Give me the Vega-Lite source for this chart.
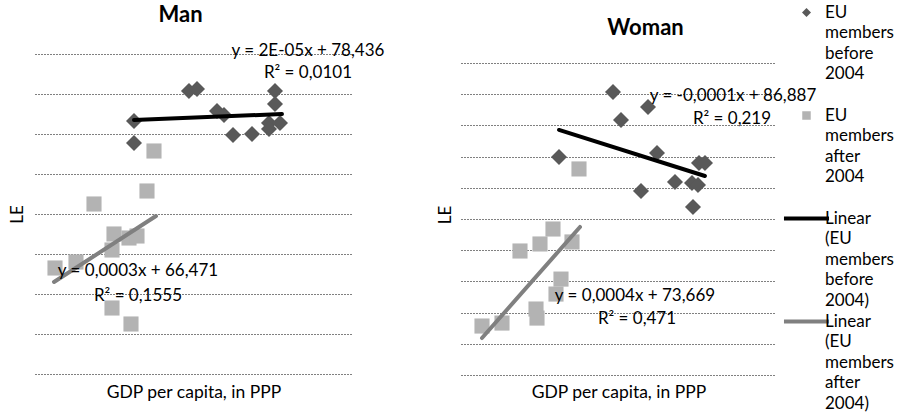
{
  "$schema": "https://vega.github.io/schema/vega-lite/v6.json",
  "background": "white",
  "padding": {"left": 8, "top": 3, "right": 0, "bottom": 0},
  "bounds": "flush",
  "spacing": 109,
  "config": {
    "view": {"stroke": null},
    "font": "Lato",
    "style": {"guide-label": {"lineHeight": 20.5}}
  },
  "datasets": {
    "points": [
      {"panel": "Man", "series": "EU members before 2004", "gdp": 10930, "le": 78.65},
      {"panel": "Man", "series": "EU members before 2004", "gdp": 10930, "le": 77.55},
      {"panel": "Man", "series": "EU members before 2004", "gdp": 17000, "le": 80.15},
      {"panel": "Man", "series": "EU members before 2004", "gdp": 17885, "le": 80.25},
      {"panel": "Man", "series": "EU members before 2004", "gdp": 20093, "le": 79.15},
      {"panel": "Man", "series": "EU members before 2004", "gdp": 20866, "le": 78.95},
      {"panel": "Man", "series": "EU members before 2004", "gdp": 21860, "le": 77.95},
      {"panel": "Man", "series": "EU members before 2004", "gdp": 23957, "le": 78.0},
      {"panel": "Man", "series": "EU members before 2004", "gdp": 26496, "le": 80.15},
      {"panel": "Man", "series": "EU members before 2004", "gdp": 26496, "le": 79.5},
      {"panel": "Man", "series": "EU members before 2004", "gdp": 25834, "le": 78.55},
      {"panel": "Man", "series": "EU members before 2004", "gdp": 25834, "le": 78.25},
      {"panel": "Man", "series": "EU members before 2004", "gdp": 27048, "le": 78.55},
      {"panel": "Man", "series": "EU members after 2004", "gdp": 13138, "le": 77.15},
      {"panel": "Man", "series": "EU members after 2004", "gdp": 12365, "le": 75.15},
      {"panel": "Man", "series": "EU members after 2004", "gdp": 6514, "le": 74.5},
      {"panel": "Man", "series": "EU members after 2004", "gdp": 8722, "le": 73.0},
      {"panel": "Man", "series": "EU members after 2004", "gdp": 10378, "le": 72.8},
      {"panel": "Man", "series": "EU members after 2004", "gdp": 11261, "le": 72.9},
      {"panel": "Man", "series": "EU members after 2004", "gdp": 8501, "le": 72.2},
      {"panel": "Man", "series": "EU members after 2004", "gdp": 2208, "le": 71.3},
      {"panel": "Man", "series": "EU members after 2004", "gdp": 4526, "le": 71.6},
      {"panel": "Man", "series": "EU members after 2004", "gdp": 8501, "le": 69.3},
      {"panel": "Man", "series": "EU members after 2004", "gdp": 10598, "le": 68.5},
      {"panel": "Woman", "series": "EU members before 2004", "gdp": 16887, "le": 88.14},
      {"panel": "Woman", "series": "EU members before 2004", "gdp": 17776, "le": 86.35},
      {"panel": "Woman", "series": "EU members before 2004", "gdp": 20776, "le": 87.18},
      {"panel": "Woman", "series": "EU members before 2004", "gdp": 10888, "le": 83.97},
      {"panel": "Woman", "series": "EU members before 2004", "gdp": 21776, "le": 84.23},
      {"panel": "Woman", "series": "EU members before 2004", "gdp": 19998, "le": 81.79},
      {"panel": "Woman", "series": "EU members before 2004", "gdp": 23775, "le": 82.37},
      {"panel": "Woman", "series": "EU members before 2004", "gdp": 25664, "le": 82.31},
      {"panel": "Woman", "series": "EU members before 2004", "gdp": 26331, "le": 82.18},
      {"panel": "Woman", "series": "EU members before 2004", "gdp": 26442, "le": 83.59},
      {"panel": "Woman", "series": "EU members before 2004", "gdp": 27108, "le": 83.59},
      {"panel": "Woman", "series": "EU members before 2004", "gdp": 25775, "le": 80.77},
      {"panel": "Woman", "series": "EU members after 2004", "gdp": 13110, "le": 83.21},
      {"panel": "Woman", "series": "EU members after 2004", "gdp": 10221, "le": 79.36},
      {"panel": "Woman", "series": "EU members after 2004", "gdp": 8777, "le": 78.4},
      {"panel": "Woman", "series": "EU members after 2004", "gdp": 6555, "le": 77.95},
      {"panel": "Woman", "series": "EU members after 2004", "gdp": 12332, "le": 78.53},
      {"panel": "Woman", "series": "EU members after 2004", "gdp": 11110, "le": 76.15},
      {"panel": "Woman", "series": "EU members after 2004", "gdp": 10555, "le": 75.19},
      {"panel": "Woman", "series": "EU members after 2004", "gdp": 8333, "le": 74.23},
      {"panel": "Woman", "series": "EU members after 2004", "gdp": 8444, "le": 73.65},
      {"panel": "Woman", "series": "EU members after 2004", "gdp": 2333, "le": 73.14},
      {"panel": "Woman", "series": "EU members after 2004", "gdp": 4555, "le": 73.33}
    ],
    "trends": [
      {"panel": "Man", "series": "Linear (EU members before 2004)", "gdp": 10930, "le": 78.7},
      {"panel": "Man", "series": "Linear (EU members before 2004)", "gdp": 27269, "le": 79.0},
      {"panel": "Man", "series": "Linear (EU members after 2004)", "gdp": 2098, "le": 70.6},
      {"panel": "Man", "series": "Linear (EU members after 2004)", "gdp": 13358, "le": 73.9},
      {"panel": "Woman", "series": "Linear (EU members before 2004)", "gdp": 10888, "le": 85.71},
      {"panel": "Woman", "series": "Linear (EU members before 2004)", "gdp": 27108, "le": 82.76},
      {"panel": "Woman", "series": "Linear (EU members after 2004)", "gdp": 2333, "le": 72.37},
      {"panel": "Woman", "series": "Linear (EU members after 2004)", "gdp": 13221, "le": 79.49}
    ],
    "equations": [
      {"panel": "Man", "label": "y = 2E-05x + 78,436", "gdp": 30139, "le": 82.15},
      {"panel": "Man", "label": "R² = 0,0101", "gdp": 30139, "le": 81.05},
      {"panel": "Man", "label": "y = 0,0003x + 66,471", "gdp": 11371, "le": 71.15},
      {"panel": "Man", "label": "R² = 0,1555", "gdp": 11371, "le": 69.9},
      {"panel": "Woman", "label": "y = -0,0001x + 86,887", "gdp": 30219, "le": 87.88},
      {"panel": "Woman", "label": "R² = 0,219", "gdp": 30108, "le": 86.41},
      {"panel": "Woman", "label": "y = 0,0004x + 73,669", "gdp": 19331, "le": 75.06},
      {"panel": "Woman", "label": "R² = 0,471", "gdp": 19554, "le": 73.59}
    ]
  },
  "hconcat": [
    {
      "width": 317,
      "height": 320,
      "title": {"text": "Man", "font": "Lato", "fontSize": 22, "fontWeight": "bold", "color": "#000", "frame": "group", "anchor": "middle", "baseline": "alphabetic", "offset": -2, "dx": -13},
      "layer": [
        {
          "data": {"name": "points"},
          "transform": [{"filter": "datum.panel === 'Man'"}],
          "mark": {"type": "point", "filled": true, "opacity": 1, "size": 912, "strokeWidth": 0},
          "encoding": {
            "x": {"field": "gdp", "type": "quantitative", "scale": {"domain": [0, 35000], "nice": false, "zero": false},
                  "axis": {"title": "GDP per capita, in PPP", "labels": false, "ticks": false, "domain": false, "grid": false, "titleFont": "Lato", "titleFontSize": 17.5, "titleFontWeight": "normal", "titleColor": "#000", "titlePadding": 9}},
            "y": {"field": "le", "type": "quantitative", "scale": {"domain": [66, 82], "nice": false, "zero": false},
                  "axis": {"title": "LE", "labels": false, "ticks": false, "domain": false, "grid": true, "tickCount": 20, "values": [66, 68, 70, 72, 74, 76, 78, 80, 82], "gridColor": "#000000", "gridDash": [1, 2], "gridWidth": 1, "gridOpacity": 1, "titleFont": "Lato", "titleFontSize": 17, "titleFontWeight": "normal", "titleColor": "#000", "titlePadding": 9}},
            "shape": {"field": "series", "type": "nominal",
              "scale": {"domain": ["EU members before 2004", "EU members after 2004", "Linear (EU members before 2004)", "Linear (EU members after 2004)"],
                        "range": ["M-0.53,0L0,-0.53L0.53,0L0,0.53Z", "M-0.5,-0.5L0.5,-0.5L0.5,0.5L-0.5,0.5Z", "M-2.65,-0.235L2.65,-0.235L2.65,0.235L-2.65,0.235Z", "M-2.65,-0.235L2.65,-0.235L2.65,0.235L-2.65,0.235Z"]},
              "legend": {
                "orient": "none", "legendX": 763, "legendY": -50, "title": null, "padding": 0,
                "labelExpr": "datum.label == 'EU members before 2004' ? ['\u00a0EU','members','before','2004'] : split(datum.label, ' ')",
                "labelFont": "Lato", "labelFontSize": 17, "labelColor": "#000", "labelBaseline": "middle", "labelOffset": 10, "labelLimit": 300,
                "gridAlign": "all", "rowPadding": 3,
                "symbolSize": 289, "symbolStrokeWidth": 0, "symbolOpacity": 1
              }
            },
            "color": {"field": "series", "type": "nominal",
              "scale": {"domain": ["EU members before 2004", "EU members after 2004", "Linear (EU members before 2004)", "Linear (EU members after 2004)"], "range": ["#595959", "#b3b3b3", "#000000", "#808080"]},
              "legend": {
                "orient": "none", "legendX": 763, "legendY": -50, "title": null, "padding": 0,
                "labelExpr": "datum.label == 'EU members before 2004' ? ['\u00a0EU','members','before','2004'] : split(datum.label, ' ')",
                "labelFont": "Lato", "labelFontSize": 17, "labelColor": "#000", "labelBaseline": "middle", "labelOffset": 10, "labelLimit": 300,
                "gridAlign": "all", "rowPadding": 3,
                "symbolSize": 289, "symbolStrokeWidth": 0, "symbolOpacity": 1
              }
            }
          }
        },
        {
          "data": {"name": "trends"},
          "transform": [{"filter": "datum.panel === 'Man'"}],
          "mark": {"type": "line", "strokeWidth": 4, "strokeCap": "round"},
          "encoding": {
            "x": {"field": "gdp", "type": "quantitative"},
            "y": {"field": "le", "type": "quantitative"},
            "detail": {"field": "series"},
            "color": {"field": "series", "type": "nominal", "legend": null}
          }
        },
        {
          "data": {"name": "equations"},
          "transform": [{"filter": "datum.panel === 'Man'"}],
          "mark": {"type": "text", "font": "Lato", "fontSize": 17, "color": "#000", "align": "center", "baseline": "middle"},
          "encoding": {
            "x": {"field": "gdp", "type": "quantitative"},
            "y": {"field": "le", "type": "quantitative"},
            "text": {"field": "label"}
          }
        }
      ]
    },
    {
      "width": 315,
      "height": 321,
      "title": {"text": "Woman", "font": "Lato", "fontSize": 22, "fontWeight": "bold", "color": "#000", "frame": "group", "anchor": "middle", "baseline": "alphabetic", "offset": -3, "dx": 27},
      "layer": [
        {
          "data": {"name": "points"},
          "transform": [{"filter": "datum.panel === 'Woman'"}],
          "mark": {"type": "point", "filled": true, "opacity": 1, "size": 912, "strokeWidth": 0},
          "encoding": {
            "x": {"field": "gdp", "type": "quantitative", "scale": {"domain": [0, 35000], "nice": false, "zero": false},
                  "axis": {"title": "GDP per capita, in PPP", "labels": false, "ticks": false, "domain": false, "grid": false, "titleFont": "Lato", "titleFontSize": 17.5, "titleFontWeight": "normal", "titleColor": "#000", "titlePadding": 8}},
            "y": {"field": "le", "type": "quantitative", "scale": {"domain": [70, 90.58], "nice": false, "zero": false},
                  "axis": {"title": "LE", "labels": false, "ticks": false, "domain": false, "grid": true, "tickCount": 20, "values": [70, 72, 74, 76, 78, 80, 82, 84, 86, 88, 90], "gridColor": "#000000", "gridDash": [1, 2], "gridWidth": 1, "gridOpacity": 1, "titleFont": "Lato", "titleFontSize": 17, "titleFontWeight": "normal", "titleColor": "#000", "titlePadding": 7}},
            "shape": {"field": "series", "type": "nominal", "legend": null},
            "color": {"field": "series", "type": "nominal", "legend": null}
          }
        },
        {
          "data": {"name": "trends"},
          "transform": [{"filter": "datum.panel === 'Woman'"}],
          "mark": {"type": "line", "strokeWidth": 4, "strokeCap": "round"},
          "encoding": {
            "x": {"field": "gdp", "type": "quantitative"},
            "y": {"field": "le", "type": "quantitative"},
            "detail": {"field": "series"},
            "color": {"field": "series", "type": "nominal", "legend": null}
          }
        },
        {
          "data": {"name": "equations"},
          "transform": [{"filter": "datum.panel === 'Woman'"}],
          "mark": {"type": "text", "font": "Lato", "fontSize": 17, "color": "#000", "align": "center", "baseline": "middle"},
          "encoding": {
            "x": {"field": "gdp", "type": "quantitative"},
            "y": {"field": "le", "type": "quantitative"},
            "text": {"field": "label"}
          }
        }
      ]
    }
  ]
}
